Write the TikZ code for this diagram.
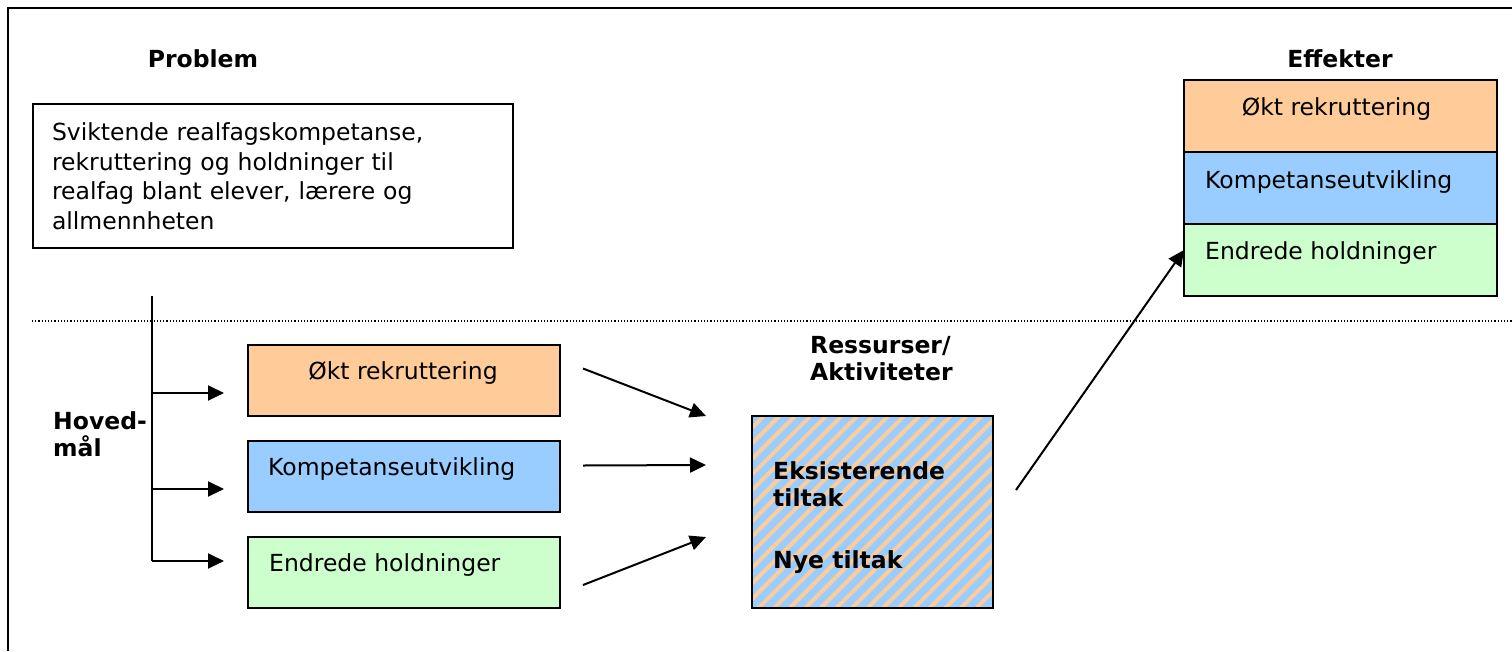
\documentclass[tikz,border=0pt]{standalone}
\usepackage{fontspec}
\setmainfont{DejaVu Sans}
\usetikzlibrary{arrows.meta,calc,patterns.meta}
\definecolor{peach}{HTML}{FFCC99}
\definecolor{sky}{HTML}{99CCFF}
\definecolor{mint}{HTML}{CCFFCC}

\begin{document}
\begin{tikzpicture}[x=1pt,y=-1pt,
  txt/.style={font=\fontsize{23.5}{29.5}\selectfont, inner sep=0pt},
  heading/.style={font=\bfseries\fontsize{23.5}{27}\selectfont, inner sep=0pt},
  box/.style={draw=black, line width=2pt, anchor=north west, inner sep=0pt, outer sep=0pt},
  goalbox/.style={box, minimum width=312, minimum height=71},
  effbox/.style={box, minimum width=313, minimum height=72},
  arr/.style={line width=2pt, -{Triangle[length=16pt,width=15pt]}},
  plain/.style={line width=2pt}]

\useasboundingbox (0,0) rectangle (1512,651);

% outer frame (open to the right and bottom)
\draw[line width=2pt] (8,651) -- (8,8) -- (1512,8);

% separator between problem and goals
\draw[line width=1.2pt, dash pattern=on 1.2pt off 2pt] (32,321) -- (1512,321);

% problem
\node[heading] (ptitle) at (203,59) {Problem};
\node[box, minimum width=480, minimum height=144, text width=442, align=left,
      inner xsep=19, font=\fontsize{23.5}{29.5}\selectfont] (prob) at (33,104)
  {Sviktende realfagskompetanse,\\ rekruttering og holdninger til\\ realfag blant elever, lærere og\\ allmennheten};

% effects
\node[heading] (etitle) at (1340,59) {Effekter};
\node[effbox, fill=peach] (e1) at (1184,80) {};
\node[effbox, fill=sky] (e2) at (1184,152) {};
\node[effbox, fill=mint] (e3) at (1184,224) {};
\node[txt] (e1t) at ($(e1.north)+(-4,29)$) {Økt rekruttering};
\node[txt, anchor=west] (e2t) at ($(e2.north west)+(21,30)$) {Kompetanseutvikling};
\node[txt, anchor=west] (e3t) at ($(e3.north west)+(21,29)$) {Endrede holdninger};

% main goals
\node[heading, align=left, anchor=west] (hm) at (53,434) {Hoved-\\mål};
\node[goalbox, fill=peach] (g1) at (248,345) {};
\node[goalbox, fill=sky] (g2) at (248,441) {};
\node[goalbox, fill=mint] (g3) at (248,537) {};
\node[txt] (g1t) at ($(g1.north)+(-1,28)$) {Økt rekruttering};
\node[txt, anchor=west] (g2t) at ($(g2.north west)+(20,28)$) {Kompetanseutvikling};
\node[txt, anchor=west] (g3t) at ($(g3.north west)+(21,28)$) {Endrede holdninger};

% branch from the problem to the goals
\coordinate (top) at (152,296);
\coordinate (b1) at (152,393);
\coordinate (b2) at (152,489);
\coordinate (b3) at (152,561);
\draw[plain] (top) -- (b3);
\draw[arr] (b1) -- ($(g1.west)+(-24,12.5)$);
\draw[arr] (b2) -- ($(g2.west)+(-24,12.5)$);
\draw[arr] (b3) -- ($(g3.west)+(-24,-11.5)$);

% resources / activities
\node[heading, align=left, anchor=north west] (rtitle) at (810,336) {Ressurser/\\Aktiviteter};
\node[box, minimum width=241, minimum height=192, preaction={fill=sky},
      pattern={Lines[angle=45,distance=11pt,line width=4pt]}, pattern color=peach] (act) at (752,416) {};
\node[heading, align=left, anchor=north west] (ex) at (773,461) {Eksisterende\\tiltak};
\node[heading, anchor=west] (ny) at (773,562) {Nye tiltak};

% goals feed the activities
\draw[arr] ($(g1.east)+(23,-12)$) -- ($(act.west)+(-46,-96)$);
\draw[arr] ($(g2.east)+(23,-11)$) -- ($(act.west)+(-46,-47)$);
\draw[arr] ($(g3.east)+(23,12.5)$) -- ($(act.west)+(-46,25)$);

% activities lead to effects
\draw[arr] ($(act.east)+(23,-22)$) -- ($(e3.west)+(0,-10)$);
\end{tikzpicture}
\end{document}
